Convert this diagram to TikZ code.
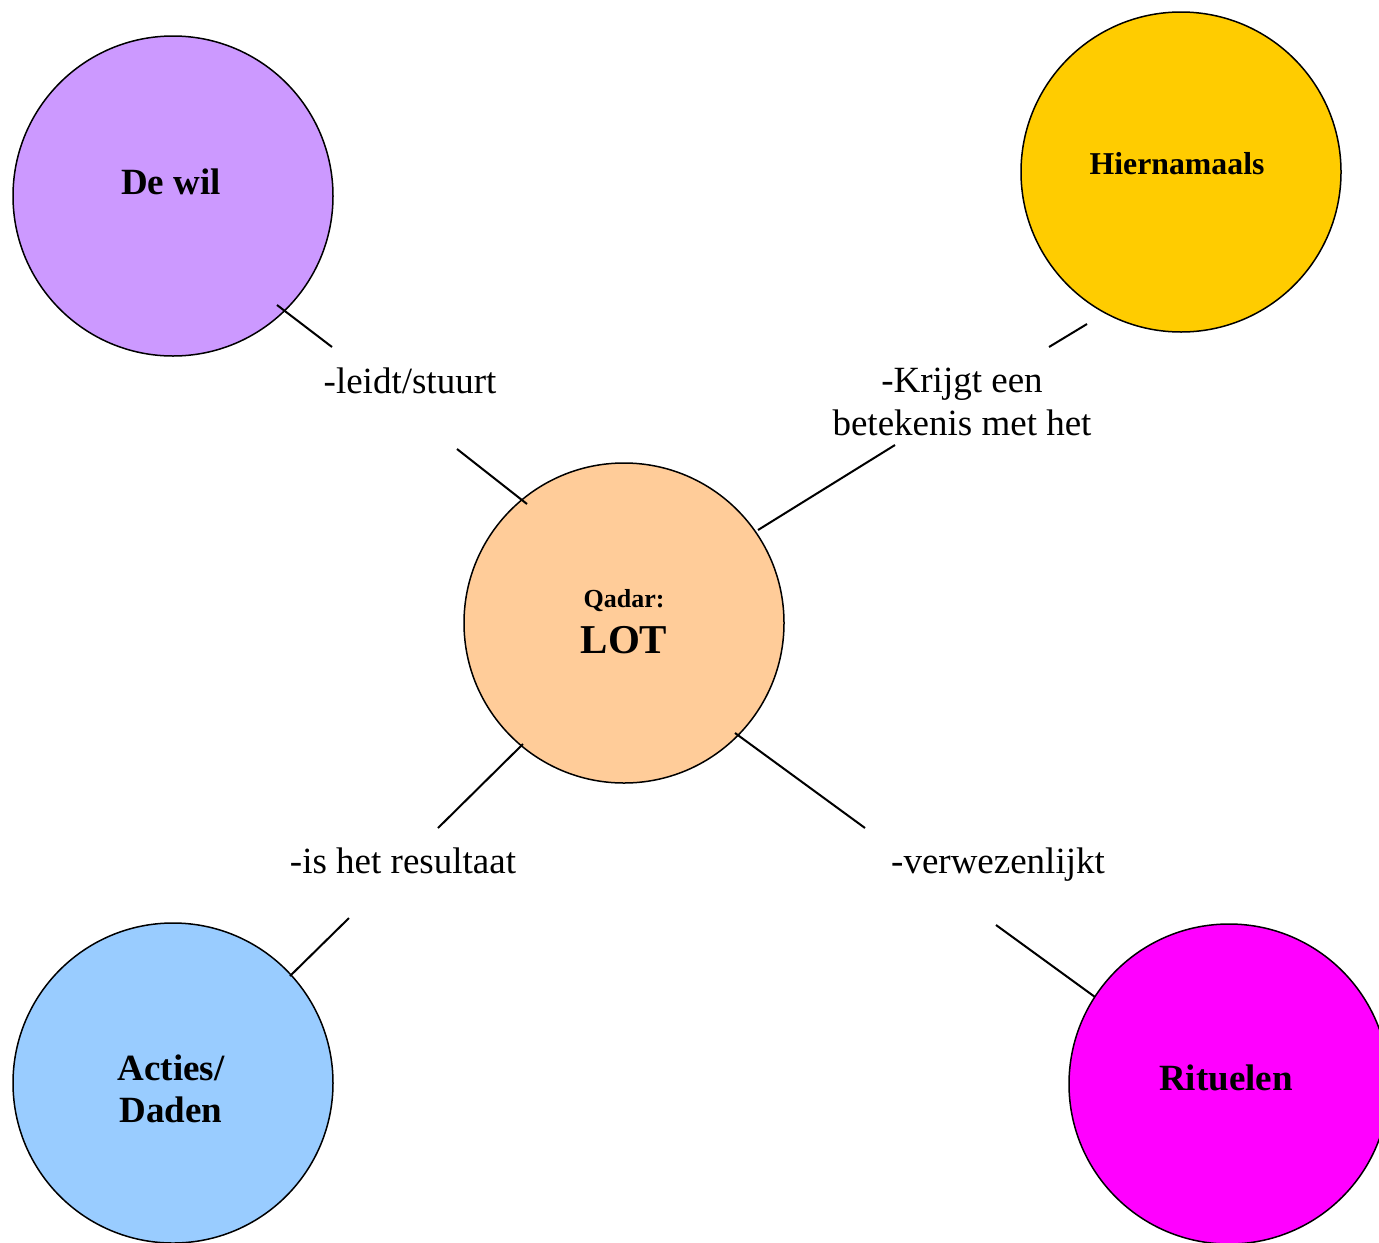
\documentclass[tikz,border=0pt]{standalone}
\usepackage{fontspec}
\setmainfont{Liberation Serif}
\definecolor{wilc}{HTML}{CC99FF}
\definecolor{hierc}{HTML}{FFCC00}
\definecolor{lotc}{HTML}{FFCC99}
\definecolor{actc}{HTML}{99CCFF}
\definecolor{ritc}{HTML}{FF00FF}
\tikzset{
  bubble/.style={circle, draw=black, line width=0.75pt, minimum size=160pt, inner sep=0pt},
  ctext/.style={anchor=base, font=\fontsize{18.5pt}{21pt}\selectfont\bfseries, align=center, inner sep=0pt},
  ltext/.style={anchor=base, font=\fontsize{18.5pt}{21pt}\selectfont, align=center, inner sep=0pt},
  conn/.style={draw=black, line width=1pt}
}
\begin{document}
\begin{tikzpicture}[x=0.5pt, y=-0.5pt]
\useasboundingbox (0,0) rectangle (1379,1242);
\begin{scope}
\clip (0,0) rectangle (1379,1242);
% circles
\node[bubble, fill=wilc] (wil) at (173,196) {};
\node[bubble, fill=hierc] (hier) at (1181,172) {};
\node[bubble, fill=lotc] (lot) at (624,623) {};
\node[bubble, fill=actc] (act) at (173,1083) {};
\node[bubble, fill=ritc] (rit) at (1229,1084) {};
\end{scope}
% circle texts
\node[ctext] (twil) at (171,194) {De wil};
\node[ctext, font=\fontsize{15.9pt}{19pt}\selectfont\bfseries] (thier) at (1177,174) {Hiernamaals};
\node[ctext, font=\fontsize{13pt}{15pt}\selectfont\bfseries] (tqadar) at (624,607) {Qadar:};
\node[ctext, font=\fontsize{20.5pt}{24pt}\selectfont\bfseries] (tlot) at (624,653) {LOT};
\node[ctext, anchor=base] (tact1) at (171,1080) {Acties/};
\node[ctext, anchor=base] (tact2) at (171,1122) {Daden};
\node[ctext] (trit) at (1226,1090) {Rituelen};
% labels
\node[ltext] (l1) at (410,393) {-leidt/stuurt};
\node[ltext] (l2a) at (962,392) {-Krijgt een};
\node[ltext] (l2b) at (962,435) {betekenis met het};
\node[ltext] (l3) at (403,873) {-is het resultaat};
\node[ltext] (l4) at (998,873) {-verwezenlijkt};
% connector endpoints
\coordinate (a1) at (277,305); \coordinate (a2) at (332,347);
\coordinate (a3) at (457,449); \coordinate (a4) at (527,504);
\coordinate (b1) at (1087,324); \coordinate (b2) at (1049,347);
\coordinate (b3) at (895,445); \coordinate (b4) at (758,530);
\coordinate (c1) at (523,744); \coordinate (c2) at (438,828);
\coordinate (c3) at (349,918); \coordinate (c4) at (290,976);
\coordinate (d1) at (735,733); \coordinate (d2) at (865,828);
\coordinate (d3) at (996,925); \coordinate (d4) at (1095,997);
\draw[conn] (a1) -- (a2); \draw[conn] (a3) -- (a4);
\draw[conn] (b1) -- (b2); \draw[conn] (b3) -- (b4);
\draw[conn] (c1) -- (c2); \draw[conn] (c3) -- (c4);
\draw[conn] (d1) -- (d2); \draw[conn] (d3) -- (d4);
\end{tikzpicture}
\end{document}
